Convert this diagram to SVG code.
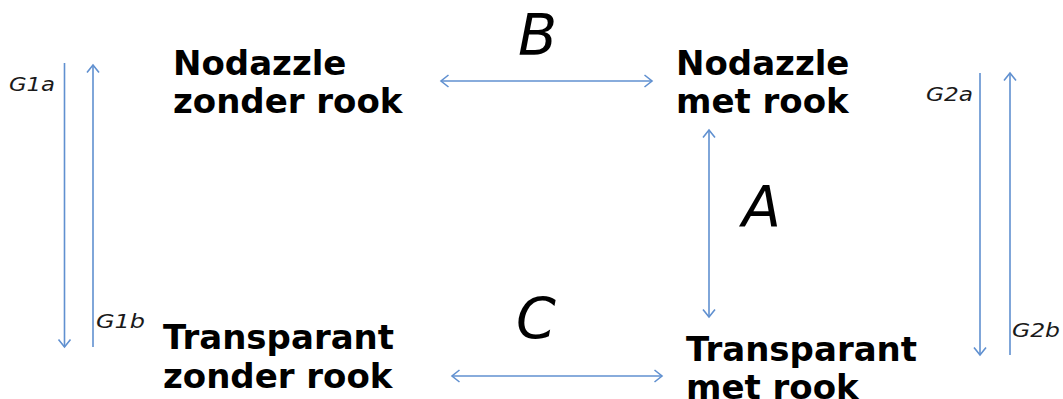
<svg xmlns="http://www.w3.org/2000/svg" width="1063" height="399" viewBox="0 0 1063 399">
<style>
.node{font-family:"DejaVu Sans","Verdana",sans-serif;font-weight:bold;font-size:34px;fill:#000}
.big{font-family:"DejaVu Sans",sans-serif;font-style:oblique;font-size:57px;fill:#000}
.small{font-family:"DejaVu Sans",sans-serif;font-style:oblique;font-size:19px;fill:#1a1a1a}
.conn{stroke:#6090d0;stroke-width:1.6;fill:none}
</style>
<defs>
<marker id="arr" markerUnits="userSpaceOnUse" markerWidth="20" markerHeight="20" viewBox="-10 -10 20 20" refX="0" refY="0" orient="auto-start-reverse">
<path d="M-7.5,-6 L0,0 L-7.5,6" fill="none" stroke="#6090d0" stroke-width="1.6"/>
</marker>
</defs>
<rect width="1063" height="399" fill="#fff"/>
<g id="connectors">
<line id="G1a" class="conn" x1="64.5" y1="63" x2="64.5" y2="347" marker-end="url(#arr)"/>
<line id="G1b" class="conn" x1="93" y1="347" x2="93" y2="65" marker-end="url(#arr)"/>
<line id="G2a" class="conn" x1="980" y1="73" x2="980" y2="355" marker-end="url(#arr)"/>
<line id="G2b" class="conn" x1="1010" y1="355" x2="1010" y2="73" marker-end="url(#arr)"/>
<line id="B" class="conn" x1="441" y1="81" x2="652" y2="81" marker-start="url(#arr)" marker-end="url(#arr)"/>
<line id="A" class="conn" x1="709" y1="130" x2="709" y2="317" marker-start="url(#arr)" marker-end="url(#arr)"/>
<line id="C" class="conn" x1="452" y1="376" x2="662" y2="376" marker-start="url(#arr)" marker-end="url(#arr)"/>
</g>
<g id="labels">
<text class="big" x="518" y="55">B</text>
<text class="big" x="742" y="227">A</text>
<text class="big" x="516" y="339">C</text>
<text class="small" x="9" y="91" textLength="46" lengthAdjust="spacingAndGlyphs">G1a</text>
<text class="small" x="96" y="328" textLength="49" lengthAdjust="spacingAndGlyphs">G1b</text>
<text class="small" x="926" y="101" textLength="47" lengthAdjust="spacingAndGlyphs">G2a</text>
<text class="small" x="1012" y="337" textLength="48" lengthAdjust="spacingAndGlyphs">G2b</text>
</g>
<g id="node-nodazzle-zonder-rook">
<text class="node" x="173" y="75">Nodazzle</text>
<text class="node" x="173" y="113">zonder rook</text>
</g>
<g id="node-nodazzle-met-rook">
<text class="node" x="676" y="75">Nodazzle</text>
<text class="node" x="676" y="113">met rook</text>
</g>
<g id="node-transparant-zonder-rook">
<text class="node" x="163" y="349">Transparant</text>
<text class="node" x="163" y="388">zonder rook</text>
</g>
<g id="node-transparant-met-rook">
<text class="node" x="686" y="361">Transparant</text>
<text class="node" x="686" y="399">met rook</text>
</g>
</svg>
